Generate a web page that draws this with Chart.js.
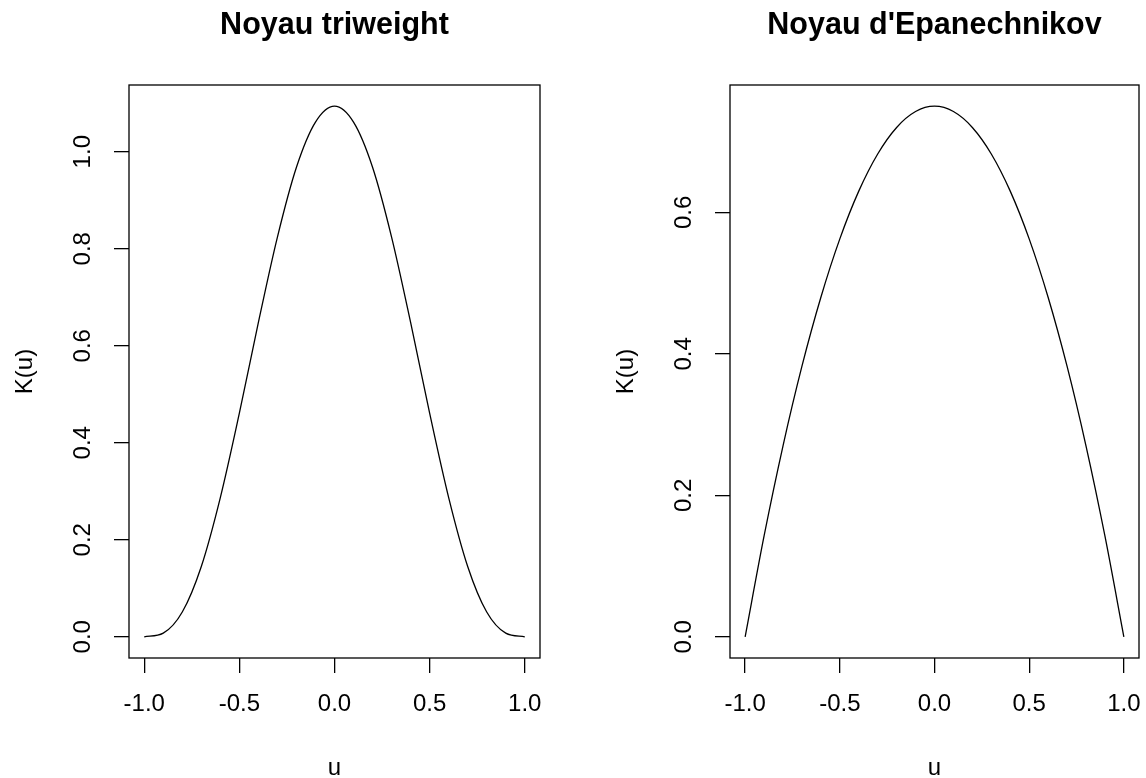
<!DOCTYPE html>
<html>
<head>
<meta charset="utf-8">
<script src="https://cdn.jsdelivr.net/npm/chart.js@4.4.0/dist/chart.umd.min.js"></script>
<style>
  body { margin: 0; background: #fff; overflow: hidden; }
  .panel { position: absolute; top: 0; width: 573px; height: 778px; }
</style>
</head>
<body>
<div class="panel" style="left:0"><canvas id="c1" width="573" height="778"></canvas></div>
<div class="panel" style="left:573px"><canvas id="c2" width="573" height="778"></canvas></div>
<script>
// u values and kernel values
var uValues = [-1.0, -0.9, -0.8, -0.7, -0.6, -0.5, -0.4, -0.3, -0.2, -0.1, 0.0,
               0.1, 0.2, 0.3, 0.4, 0.5, 0.6, 0.7, 0.8, 0.9, 1.0];
var triValues = [0, 0.0075, 0.051, 0.145, 0.287, 0.461, 0.648, 0.824, 0.968, 1.061, 1.094,
                 1.061, 0.968, 0.824, 0.648, 0.461, 0.287, 0.145, 0.051, 0.0075, 0];
var epaValues = [0, 0.1425, 0.27, 0.3825, 0.48, 0.5625, 0.63, 0.6825, 0.72, 0.7425, 0.75,
                 0.7425, 0.72, 0.6825, 0.63, 0.5625, 0.48, 0.3825, 0.27, 0.1425, 0];
var xTicks = [-1.0, -0.5, 0.0, 0.5, 1.0];
var triTicks = [0.0, 0.2, 0.4, 0.6, 0.8, 1.0];
var epaTicks = [0.0, 0.2, 0.4, 0.6];

var FONT = "'Liberation Sans', Arial, sans-serif";

// title + box around the plot region, R style
var framePlugin = {
  id: 'frame',
  afterDraw: function (chart, args, opts) {
    var a = chart.chartArea, ctx = chart.ctx;
    ctx.save();
    ctx.strokeStyle = '#000';
    ctx.lineWidth = 1.3;
    ctx.strokeRect(a.left, a.top, a.right - a.left, a.bottom - a.top);
    ctx.fillStyle = '#000';
    ctx.font = 'bold 30.5px ' + FONT;
    ctx.textAlign = 'center';
    ctx.textBaseline = 'alphabetic';
    ctx.fillText(opts.text, (a.left + a.right) / 2, 34);
    ctx.restore();
  }
};

function makeChart(id, yVals, yTicks, yMin, yMax, title, padLeft, padRight) {
  var pts = uValues.map(function (u, i) { return {x: u, y: yVals[i]}; });
  return new Chart(id, {
    type: 'line',
    data: {
      datasets: [{
        data: pts,
        borderColor: '#000',
        borderWidth: 1.3,
        pointRadius: 0,
        cubicInterpolationMode: 'monotone',
        fill: false
      }]
    },
    options: {
      responsive: false,
      animation: false,
      layout: { padding: { top: 85, left: padLeft, right: padRight, bottom: 0 } },
      plugins: {
        legend: { display: false },
        tooltip: { enabled: false },
        frame: { text: title }
      },
      scales: {
        x: {
          type: 'linear',
          min: -1.08, max: 1.08,
          afterFit: function (s) { s.height = 120; s.paddingLeft = 0; s.paddingRight = 0; },
          afterBuildTicks: function (s) { s.ticks = xTicks.map(function (v) { return {value: v}; }); },
          border: { display: false },
          grid: { drawOnChartArea: false, drawTicks: true, tickLength: 15, color: '#000', lineWidth: 1.3 },
          ticks: {
            color: '#000', padding: 17, maxRotation: 0,
            font: { family: FONT, size: 24 },
            callback: function (v) { return v.toFixed(1); }
          },
          title: {
            display: true, text: 'u', color: '#000',
            font: { family: FONT, size: 24, lineHeight: 1 },
            padding: { top: 0, bottom: -2 }
          }
        },
        y: {
          type: 'linear',
          min: yMin, max: yMax,
          afterFit: function (s) { s.width = 129; s.paddingTop = 0; s.paddingBottom = 0; },
          afterBuildTicks: function (s) { s.ticks = yTicks.map(function (v) { return {value: v}; }); },
          border: { display: false },
          grid: { drawOnChartArea: false, drawTicks: true, tickLength: 15, color: '#000', lineWidth: 1.3 },
          ticks: {
            color: '#000', padding: 14, minRotation: 90, maxRotation: 90, crossAlign: 'center',
            font: { family: FONT, size: 24 },
            callback: function (v) { return v.toFixed(1); }
          },
          title: {
            display: true, text: 'K(u)', color: '#000',
            font: { family: FONT, size: 24, lineHeight: 1 },
            padding: { top: 13, bottom: 0 }
          }
        }
      }
    },
    plugins: [framePlugin]
  });
}

makeChart('c1', triValues, triTicks, -0.04375, 1.1375, 'Noyau triweight', 0, 33);
makeChart('c2', epaValues, epaTicks, -0.03, 0.78, "Noyau d'Epanechnikov", 28, 7);
</script>
</body>
</html>
